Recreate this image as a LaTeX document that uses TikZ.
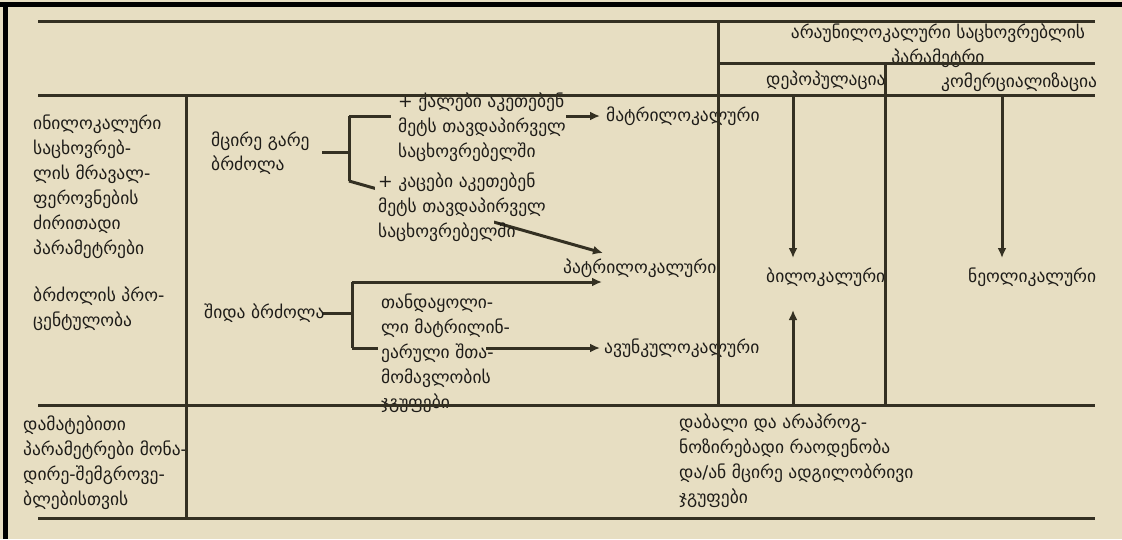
\documentclass[tikz,border=0pt]{standalone}
\usepackage{fontspec}
\newfontfamily\geo{DejaVu Sans}
\usetikzlibrary{arrows.meta}
\definecolor{bgc}{RGB}{231,222,194}
\definecolor{ln}{RGB}{52,48,34}
\definecolor{tx}{RGB}{30,28,24}
\pgfdeclarelayer{back}\pgfdeclarelayer{conn}\pgfdeclarelayer{maskl}\pgfdeclarelayer{front}
\pgfsetlayers{back,conn,maskl,main,front}
\begin{document}
\begin{tikzpicture}[x=1pt,y=-1pt,
  lbl/.style={font=\geo\fontsize{17.5}{25}\selectfont, text=tx, inner sep=1pt, anchor=base west, align=left},
  rule/.style={draw=ln, line width=3pt},
  conn/.style={draw=ln, line width=3pt, -{Latex[length=10pt,width=9pt]}},
  line/.style={draw=ln, line width=3pt}]
\useasboundingbox (0,0) rectangle (1122,539);
\begin{pgfonlayer}{back}
  \fill[bgc] (0,0) rectangle (1122,539);
  \fill[black] (0,2) rectangle (1122,7);
  \fill[black] (3,2) rectangle (8,539);
\end{pgfonlayer}

% ---------- text nodes (base = baseline of the last line) ----------
\node[lbl] (inil) at (32,254) {ინილოკალური\\საცხოვრებ-\\ლის მრავალ-\\ფეროვნების\\ძირითადი\\პარამეტრები};
\node[lbl] (proc) at (32,326) {ბრძოლის პრო-\\ცენტულობა};
\node[lbl] (dam) at (22,505) {დამატებითი\\პარამეტრები მონა-\\დირე-შემგროვე-\\ბლებისთვის};
\node[lbl,font=\geo\fontsize{17.5}{24}\selectfont] (gare) at (210,170) {მცირე გარე\\ბრძოლა};
\node[lbl] (shida) at (203,318) {შიდა ბრძოლა};
\node[lbl] (qal) at (397,157) {+ ქალები აკეთებენ\\მეტს თავდაპირველ\\საცხოვრებელში};
\node[lbl] (matri) at (605,121) {მატრილოკალური};
\node[lbl] (kac) at (377,237) {+ კაცები აკეთებენ\\მეტს თავდაპირველ\\საცხოვრებელში};
\node[lbl] (patri) at (562,273) {პატრილოკალური};
\node[lbl] (tand) at (380,408) {თანდაყოლი-\\ლი მატრილინ-\\ეარული შთა-\\მომავლობის\\ჯგუფები};
\node[lbl] (avun) at (603,353) {ავუნკულოკალური};
\node[lbl,align=center,anchor=base] (aran) at (938,63) {არაუნილოკალური საცხოვრებლის\\პარამეტრი};
\node[lbl] (depo) at (765,85) {დეპოპულაცია};
\node[lbl] (komer) at (940,87) {კომერციალიზაცია};
\node[lbl] (bilo) at (765,282) {ბილოკალური};
\node[lbl] (neol) at (967,282) {ნეოლიკალური};
\node[lbl] (dabal) at (678,503) {დაბალი და არაპროგ-\\ნოზირებადი რაოდენობა\\და/ან მცირე ადგილობრივი\\ჯგუფები};

% ---------- coordinates ----------
\coordinate (g1) at (322,152);
\coordinate (b1) at (349,152);
\coordinate (b1t) at (349,116);
\coordinate (b1b) at (349,181);
\coordinate (s1) at (322,313);
\coordinate (b2) at (352,313);
\coordinate (b2t) at (352,282);
\coordinate (b2b) at (352,348);
\coordinate (pt1) at (603,253);
\coordinate (pt2) at (602,282);
\coordinate (mt) at (600,116);
\coordinate (av) at (600,348);
\coordinate (d1s) at (793,95);
\coordinate (d1e) at (793,258);
\coordinate (d2s) at (1002,95);
\coordinate (d2e) at (1002,258);
\coordinate (u1s) at (793,405);
\coordinate (u1e) at (793,310);

% ---------- connectors (under the text) ----------
\begin{pgfonlayer}{conn}
  \draw[line] (g1) -- (b1);
  \draw[line] (b1t) -- (b1b);
  \draw[conn] (b1t) -- (mt);
  \draw[conn] (b1b) -- (pt1);
  \draw[line] (s1) -- (b2);
  \draw[line] (b2t) -- (b2b);
  \draw[conn] (b2t) -- (pt2);
  \draw[conn] (b2b) -- (av);
  \draw[conn] (d1s) -- (d1e);
  \draw[conn] (d2s) -- (d2e);
  \draw[conn] (u1s) -- (u1e);
\end{pgfonlayer}

% ---------- where the text hides the connectors ----------
\begin{pgfonlayer}{maskl}
  \fill[bgc] (391,109) rectangle (566,123);
  \fill[bgc] (375,176) rectangle (494,229);
  \fill[bgc] (378,340) rectangle (486,356);
\end{pgfonlayer}

% ---------- table rules ----------
\begin{pgfonlayer}{front}
  \draw[rule] (38,21) -- (1095,21);
  \draw[rule] (718,21) -- (718,405);
  \draw[rule] (718,63) -- (1095,63);
  \draw[rule] (38,95) -- (1095,95);
  \draw[rule] (186,95) -- (186,518);
  \draw[rule] (885,63) -- (885,405);
  \draw[rule] (38,405) -- (1095,405);
  \draw[rule] (38,518) -- (1095,518);
\end{pgfonlayer}
\end{tikzpicture}
\end{document}
